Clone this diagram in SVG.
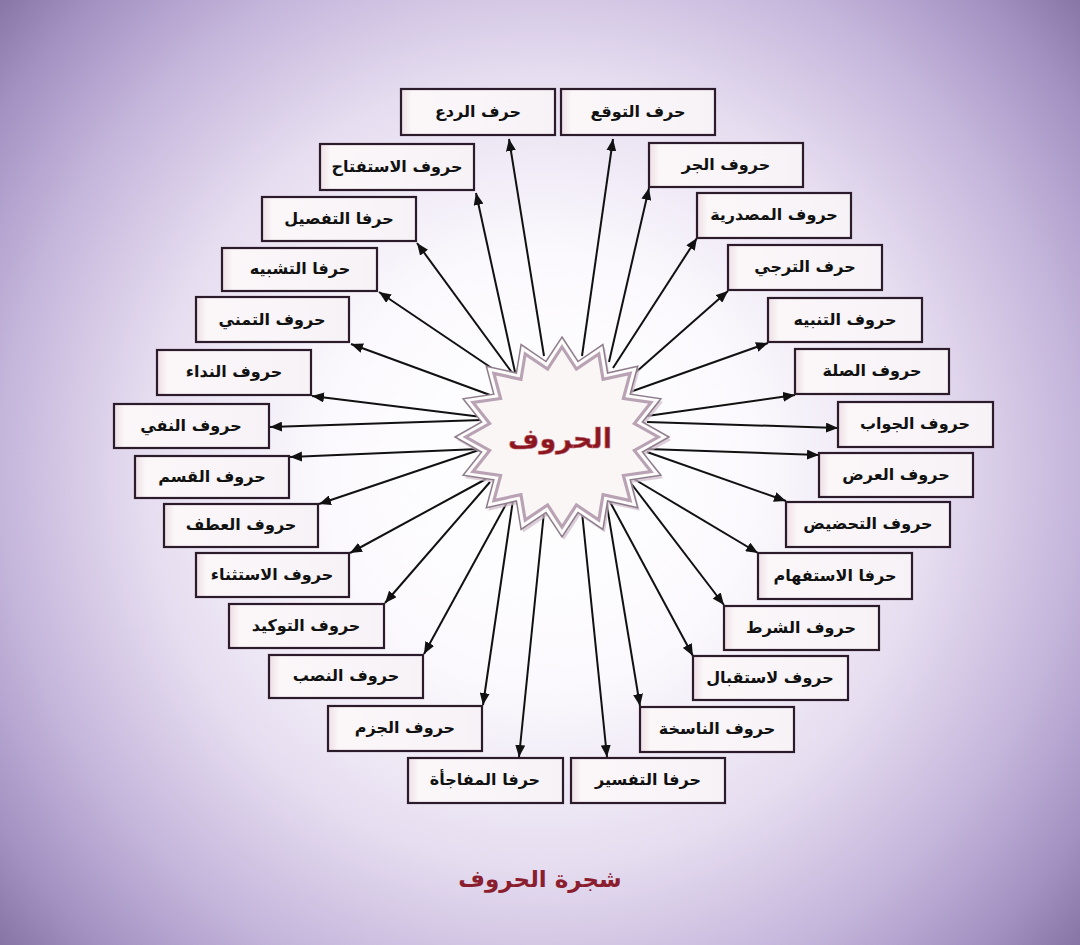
<svg xmlns="http://www.w3.org/2000/svg" xmlns:xlink="http://www.w3.org/1999/xlink" width="1080" height="945" viewBox="0 0 1080 945">
<defs>
<radialGradient id="bg" gradientUnits="userSpaceOnUse" cx="540" cy="470" r="720">
<stop offset="0" stop-color="#ffffff"/>
<stop offset="0.3" stop-color="#fbf9fd"/>
<stop offset="0.55" stop-color="#e6ddf0"/>
<stop offset="0.75" stop-color="#c4b5db"/>
<stop offset="0.9" stop-color="#a391c2"/>
<stop offset="1" stop-color="#8574a4"/>
</radialGradient>
<linearGradient id="boxfill" x1="0" y1="0" x2="1" y2="0">
<stop offset="0" stop-color="#eedfe5"/>
<stop offset="0.07" stop-color="#fbf7f9"/>
<stop offset="1" stop-color="#f6f2f6"/>
</linearGradient>
<marker id="ah" viewBox="0 0 12 10" refX="12" refY="5" markerWidth="12" markerHeight="10" markerUnits="userSpaceOnUse" orient="auto">
<path d="M0,0 L12,5 L0,10 z" fill="#111"/>
</marker>
<polygon id="star" points="0,-100 16.0,-75.5 40.9,-92.4 45.6,-64.0 75.7,-70.7 68.2,-42.8 98.9,-38.3 80.4,-15.0 107,0 80.4,15.0 98.9,38.3 68.2,42.8 75.7,70.7 45.6,64.0 40.9,92.4 16.0,75.5 0,100 -16.0,75.5 -40.9,92.4 -45.6,64.0 -75.7,70.7 -68.2,42.8 -98.9,38.3 -80.4,15.0 -107,0 -80.4,-15.0 -98.9,-38.3 -68.2,-42.8 -75.7,-70.7 -45.6,-64.0 -40.9,-92.4 -16.0,-75.5"/>
</defs>
<style>
.box{fill:url(#boxfill);stroke:#2b1b2b;stroke-width:2.2}
.lbl{font-family:"DejaVu Sans",sans-serif;font-size:16px;font-weight:bold;fill:#111;text-anchor:middle}
.edge{stroke:#111;stroke-width:2;fill:none;marker-end:url(#ah)}
</style>
<rect x="0" y="0" width="1080" height="945" fill="url(#bg)"/>

<g id="connectors">
<line class="edge" x1="544" y1="356" x2="509" y2="139"/>
<line class="edge" x1="582" y1="356" x2="613" y2="139"/>
<line class="edge" x1="515" y1="372" x2="476" y2="193"/>
<line class="edge" x1="513" y1="374" x2="417" y2="243"/>
<line class="edge" x1="496" y1="371" x2="379" y2="292"/>
<line class="edge" x1="490" y1="395" x2="351" y2="344"/>
<line class="edge" x1="482" y1="417" x2="312" y2="396"/>
<line class="edge" x1="482" y1="420" x2="270" y2="427"/>
<line class="edge" x1="479" y1="449" x2="290" y2="457"/>
<line class="edge" x1="482" y1="449" x2="319" y2="504"/>
<line class="edge" x1="486" y1="479" x2="350" y2="553"/>
<line class="edge" x1="490" y1="482" x2="385" y2="603"/>
<line class="edge" x1="510" y1="497" x2="424" y2="654"/>
<line class="edge" x1="513" y1="500" x2="483" y2="705"/>
<line class="edge" x1="544" y1="512" x2="519" y2="757"/>
<line class="edge" x1="582" y1="512" x2="607" y2="757"/>
<line class="edge" x1="606" y1="500" x2="640" y2="706"/>
<line class="edge" x1="609" y1="500" x2="693" y2="656"/>
<line class="edge" x1="630" y1="482" x2="724" y2="605"/>
<line class="edge" x1="634" y1="479" x2="758" y2="553"/>
<line class="edge" x1="647" y1="452" x2="786" y2="501"/>
<line class="edge" x1="647" y1="449" x2="819" y2="455"/>
<line class="edge" x1="647" y1="422" x2="838" y2="428"/>
<line class="edge" x1="647" y1="416" x2="795" y2="395"/>
<line class="edge" x1="630" y1="392" x2="768" y2="343"/>
<line class="edge" x1="627" y1="380" x2="728" y2="291"/>
<line class="edge" x1="613" y1="368" x2="697" y2="238"/>
<line class="edge" x1="609" y1="362" x2="649" y2="188"/>
</g>

<g id="center">
<use xlink:href="#star" href="#star" transform="translate(564,440)" fill="#cdb9c9" opacity="0.7"/>
<use xlink:href="#star" href="#star" transform="translate(562,437)" fill="#fdfcfb" stroke="#8e7d8c" stroke-width="1.5"/>
<use xlink:href="#star" href="#star" transform="translate(562,437) scale(0.9)" fill="#f9f6f5" stroke="#b8a2b4" stroke-width="3.5"/>
<text x="560" y="448" font-family="'DejaVu Sans',sans-serif" font-size="27" font-weight="bold" fill="#8c1620" stroke="#c0707a" stroke-width="0.5" text-anchor="middle">الحروف</text>
</g>

<g id="n-rad"><rect class="box" x="401" y="89" width="154" height="46"/><text class="lbl" x="478" y="117">حرف الردع</text></g>
<g id="n-tawaqqu"><rect class="box" x="561" y="89" width="154" height="46"/><text class="lbl" x="638" y="117">حرف التوقع</text></g>
<g id="n-istiftah"><rect class="box" x="320" y="144" width="154" height="46"/><text class="lbl" x="397" y="172">حروف الاستفتاح</text></g>
<g id="n-tafsil"><rect class="box" x="262" y="197" width="154" height="44"/><text class="lbl" x="339" y="224">حرفا التفصيل</text></g>
<g id="n-tashbih"><rect class="box" x="222" y="248" width="155" height="43"/><text class="lbl" x="300" y="274">حرفا التشبيه</text></g>
<g id="n-tamanni"><rect class="box" x="196" y="297" width="153" height="45"/><text class="lbl" x="272" y="325">حروف التمني</text></g>
<g id="n-nida"><rect class="box" x="157" y="350" width="154" height="45"/><text class="lbl" x="234" y="377">حروف النداء</text></g>
<g id="n-nafy"><rect class="box" x="114" y="404" width="155" height="44"/><text class="lbl" x="191" y="431">حروف النفي</text></g>
<g id="n-qasam"><rect class="box" x="135" y="456" width="154" height="42"/><text class="lbl" x="212" y="482">حروف القسم</text></g>
<g id="n-atf"><rect class="box" x="164" y="504" width="154" height="43"/><text class="lbl" x="241" y="530">حروف العطف</text></g>
<g id="n-istithna"><rect class="box" x="196" y="553" width="153" height="44"/><text class="lbl" x="272" y="580">حروف الاستثناء</text></g>
<g id="n-tawkid"><rect class="box" x="229" y="604" width="155" height="44"/><text class="lbl" x="306" y="631">حروف التوكيد</text></g>
<g id="n-nasb"><rect class="box" x="269" y="655" width="154" height="43"/><text class="lbl" x="346" y="681">حروف النصب</text></g>
<g id="n-jazm"><rect class="box" x="328" y="706" width="154" height="45"/><text class="lbl" x="405" y="733">حروف الجزم</text></g>
<g id="n-mufajaa"><rect class="box" x="408" y="758" width="155" height="45"/><text class="lbl" x="485" y="785">حرفا المفاجأة</text></g>

<g id="n-jarr"><rect class="box" x="649" y="143" width="154" height="44"/><text class="lbl" x="726" y="170">حروف الجر</text></g>
<g id="n-masdariya"><rect class="box" x="697" y="193" width="154" height="45"/><text class="lbl" x="774" y="220">حروف المصدرية</text></g>
<g id="n-tarajji"><rect class="box" x="728" y="245" width="154" height="45"/><text class="lbl" x="805" y="272">حرف الترجي</text></g>
<g id="n-tanbih"><rect class="box" x="768" y="298" width="154" height="44"/><text class="lbl" x="845" y="325">حروف التنبيه</text></g>
<g id="n-sila"><rect class="box" x="795" y="349" width="154" height="45"/><text class="lbl" x="872" y="376">حروف الصلة</text></g>
<g id="n-jawab"><rect class="box" x="838" y="402" width="155" height="45"/><text class="lbl" x="915" y="429">حروف الجواب</text></g>
<g id="n-ard"><rect class="box" x="819" y="453" width="154" height="44"/><text class="lbl" x="896" y="480">حروف العرض</text></g>
<g id="n-tahdid"><rect class="box" x="786" y="502" width="164" height="45"/><text class="lbl" x="868" y="529">حروف التحضيض</text></g>
<g id="n-istifham"><rect class="box" x="758" y="553" width="154" height="46"/><text class="lbl" x="835" y="581">حرفا الاستفهام</text></g>
<g id="n-shart"><rect class="box" x="724" y="606" width="155" height="44"/><text class="lbl" x="801" y="633">حروف الشرط</text></g>
<g id="n-istiqbal"><rect class="box" x="693" y="656" width="155" height="44"/><text class="lbl" x="770" y="683">حروف لاستقبال</text></g>
<g id="n-nasikha"><rect class="box" x="640" y="707" width="154" height="45"/><text class="lbl" x="717" y="734">حروف الناسخة</text></g>
<g id="n-tafsir"><rect class="box" x="571" y="758" width="154" height="45"/><text class="lbl" x="648" y="785">حرفا التفسير</text></g>

<text id="title" x="540" y="887" font-family="'DejaVu Sans',sans-serif" font-size="23" font-weight="bold" fill="#8b1e2e" text-anchor="middle">شجرة الحروف</text>
</svg>
